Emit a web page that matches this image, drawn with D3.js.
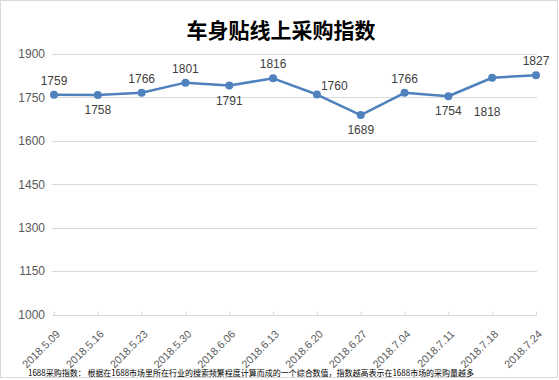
<!DOCTYPE html>
<html>
<head>
<meta charset="utf-8">
<script src="https://cdn.jsdelivr.net/npm/d3@7"></script>
<style>
  body { margin: 0; background: #fff; }
  svg { display: block; }
</style>
</head>
<body>
<svg id="chart" width="559" height="380"></svg>
<script>
const title = "车身贴线上采购指数";
const categories = ["2018.5.09","2018.5.16","2018.5.23","2018.5.30","2018.6.06","2018.6.13","2018.6.20","2018.6.27","2018.7.04","2018.7.11","2018.7.18","2018.7.24"];
const values = [1759,1758,1766,1801,1791,1816,1760,1689,1766,1754,1818,1827];
const labelPos = ["above","below","above","above","below","above","right","below","above","below","belowleft","above"];
const yTicks = [1000,1150,1300,1450,1600,1750,1900];
const footnote = "1688采购指数：  根据在1688市场里所在行业的搜索频繁程度计算而成的一个综合数值，指数越高表示在1688市场的采购量越多";

const svg = d3.select("#chart");
const font = "'Liberation Sans', Arial, sans-serif";

svg.append("rect").attr("x",0.5).attr("y",0.5).attr("width",557).attr("height",377)
  .attr("fill","#fff").attr("stroke","#d9d9d9");

const x = d3.scalePoint().domain(categories).range([54, 536]);
const y = d3.scaleLinear().domain([1000, 1900]).range([314.5, 54]);

// gridlines
svg.append("g").selectAll("line").data(yTicks.slice(1)).join("line")
  .attr("x1", 52).attr("x2", 537)
  .attr("y1", d => Math.round(y(d)) + 0.5).attr("y2", d => Math.round(y(d)) + 0.5)
  .attr("stroke", "#d9d9d9").attr("stroke-width", 1);

// y axis labels
const yAxis = d3.axisLeft(y).tickValues(yTicks).tickSize(0).tickPadding(0).tickFormat(d3.format("d"));
const gy = svg.append("g").attr("transform", "translate(45,0)").call(yAxis);
gy.select(".domain").remove();
gy.selectAll("text").attr("font-family", font).attr("font-size", 12).attr("fill", "#595959");

// x axis
const xAxis = d3.axisBottom(x).tickSize(-4).tickPadding(6);
const gx = svg.append("g").attr("transform", `translate(0,${Math.round(y(1000)) + 0.5})`).call(xAxis);
gx.select(".domain").attr("stroke", "#d9d9d9").attr("d", "M52,0H537");
gx.selectAll(".tick line").attr("stroke", "#d9d9d9");
gx.selectAll("text")
  .attr("font-family", font).attr("font-size", 10.8).attr("fill", "#595959")
  .attr("text-anchor", "end")
  .attr("x", 0).attr("y", 0)
  .attr("dy", "0.35em")
  .attr("transform", "translate(3.6,16.5) rotate(-45)");

// line
const line = d3.line().x((d, i) => x(categories[i])).y(d => y(d));
svg.append("path").datum(values).attr("d", line)
  .attr("fill", "none").attr("stroke", "#4f81bd").attr("stroke-width", 2.5)
  .attr("stroke-linejoin", "round");

svg.append("g").selectAll("circle").data(values).join("circle")
  .attr("cx", (d, i) => x(categories[i])).attr("cy", d => y(d)).attr("r", 4)
  .attr("fill", "#4f81bd");

// data labels
const off = {
  above: [0, -10, "middle"],
  below: [0, 19, "middle"],
  right: [4, -5, "start"],
  belowleft: [-5, 38, "middle"]
};
svg.append("g").selectAll("text").data(values).join("text")
  .attr("x", (d, i) => x(categories[i]) + off[labelPos[i]][0])
  .attr("y", (d, i) => y(d) + off[labelPos[i]][1])
  .attr("text-anchor", (d, i) => off[labelPos[i]][2])
  .attr("font-family", font).attr("font-size", 12).attr("fill", "#404040")
  .text(d => d);

// title
svg.append("text").attr("x", 281).attr("y", 38).attr("text-anchor", "middle")
  .attr("font-family", "'Noto Sans CJK SC', sans-serif").attr("font-weight", "bold")
  .attr("font-size", 21).attr("fill", "#000").text(title);

// footnote
svg.append("text").attr("x", 28).attr("y", 376).attr("font-family", "'Noto Sans CJK SC', sans-serif")
  .attr("font-size", 8.4).attr("fill", "#000")
  .attr("textLength", 446).attr("lengthAdjust", "spacingAndGlyphs")
  .text(footnote);
</script>
</body>
</html>
